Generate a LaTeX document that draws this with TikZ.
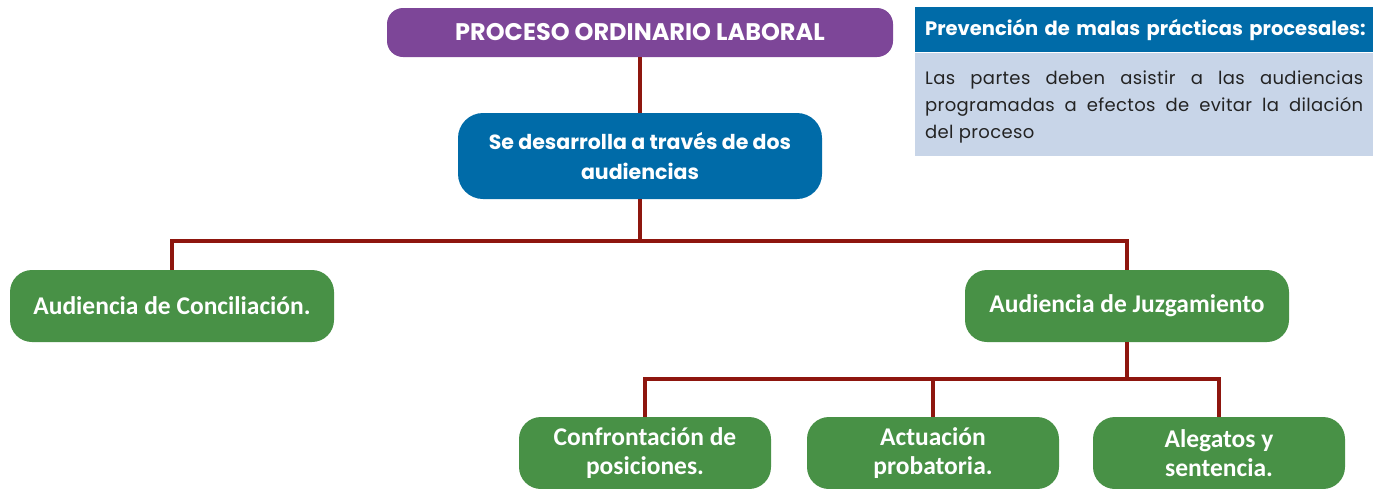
\documentclass[tikz,border=0pt]{standalone}
\usepackage{fontspec}
\setmainfont{Poppins}
\newfontfamily\narrowfont{Carlito}
\newfontfamily\notefont[LetterSpace=2]{Poppins}
\usetikzlibrary{positioning}
\definecolor{purplecol}{RGB}{125,70,152}
\definecolor{bluecol}{RGB}{0,107,168}
\definecolor{greencol}{RGB}{72,145,70}
\definecolor{linecol}{RGB}{142,22,14}
\definecolor{notecol}{RGB}{200,213,232}
\definecolor{notetext}{RGB}{35,35,35}

\begin{document}
\begin{tikzpicture}[x=1pt,y=-1pt,
  titlebox/.style={rounded corners=16pt,text=white,align=center,inner sep=0pt,
    font=\fontsize{20.5}{30}\selectfont\bfseries},
  stagebox/.style={fill=greencol,rounded corners=22pt,text=white,align=center,inner sep=0pt,
    minimum width=324pt,minimum height=72pt,font=\narrowfont\fontsize{25.5}{29}\selectfont\bfseries},
  subbox/.style={stagebox,minimum width=252pt},
  link/.style={linecol,line width=4pt},
  notehead/.style={fill=bluecol,text=white,inner xsep=10pt,inner ysep=0pt,text width=448pt,
    minimum height=45pt,align=left,font=\fontsize{19.5}{24}\selectfont\bfseries},
  notebody/.style={fill=notecol,text=notetext,inner xsep=10pt,inner ysep=0pt,text width=438pt,
    minimum height=103pt,align=justify,font=\notefont\fontsize{18}{27}\selectfont}]
\useasboundingbox (0,0) rectangle (1373,488);
% main boxes
\node[titlebox,fill=purplecol,minimum width=506pt,minimum height=49pt,font=\fontsize{24}{30}\selectfont\bfseries] (proceso) at (640,32.5) {PROCESO ORDINARIO LABORAL};
\node[titlebox,fill=bluecol,rounded corners=25pt,minimum width=364pt,minimum height=86pt] (desarrollo) at (640,156) {Se desarrolla a través de dos\\audiencias};
% audiencias
\node[stagebox] (conciliacion) at (172,306) {Audiencia de Conciliación.};
\node[stagebox] (juzgamiento) at (1127,306) {Audiencia de Juzgamiento};
% etapas del juzgamiento
\node[subbox] (confrontacion) at (645,453) {Confrontación de\\posiciones.};
\node[subbox] (actuacion) at (933,453) {Actuación\\probatoria.};
\node[subbox] (alegatos) at (1219,453) {Alegatos y\\sentencia.};
% connectors
\coordinate (split) at (640,241);
\coordinate (subsplit) at (1127,379);
\draw[link] (proceso) -- (desarrollo);
\draw[link] (desarrollo) -- (split);
\draw[link] (split) -| (conciliacion);
\draw[link] (split) -| (juzgamiento);
\draw[link] (juzgamiento) -- (subsplit);
\draw[link] (subsplit) -| (confrontacion);
\draw[link] (subsplit) -| (actuacion);
\draw[link] (subsplit) -| (alegatos);
% nota lateral
\node[notehead,anchor=north west] (notatitulo) at (915,7) {Prevención de malas prácticas procesales:};
\node[notebody,anchor=north west] (notatexto) at (notatitulo.south west) {\rule{0pt}{20pt}Las partes deben asistir a las audiencias\linebreak programadas a efectos de evitar la dilación\linebreak del proceso};
\end{tikzpicture}
\end{document}
